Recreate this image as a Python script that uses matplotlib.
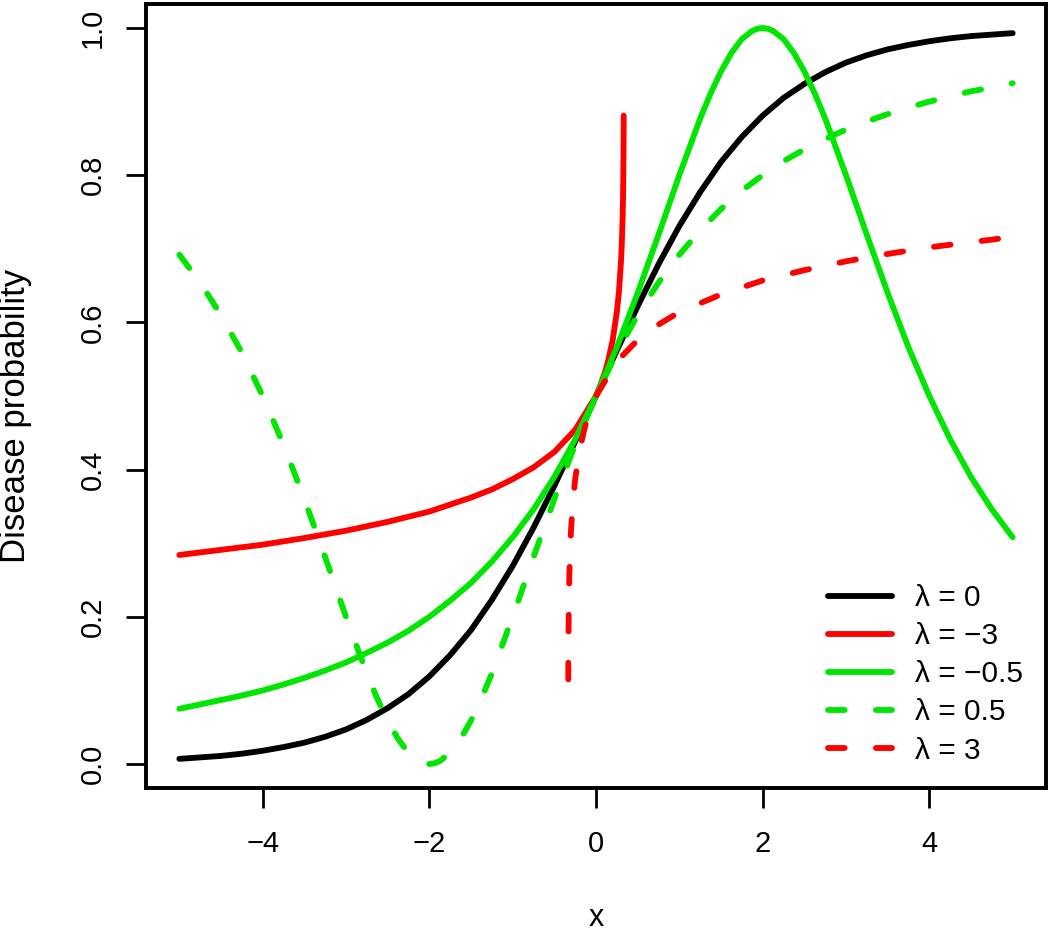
import numpy as np
import matplotlib
matplotlib.use("Agg")
from matplotlib import pyplot as plt

plt.rcParams['font.family'] = ['Liberation Sans', 'DejaVu Sans']
plt.rcParams['lines.scale_dashes'] = False

# values
x_l0 = [-5, -4.75, -4.5, -4.25, -4, -3.75, -3.5, -3.25, -3, -2.75, -2.5, -2.25, -2, -1.75,
        -1.5, -1.25, -1, -0.75, -0.5, -0.25, 0, 0.25, 0.5, 0.75, 1, 1.25, 1.5, 1.75, 2,
        2.25, 2.5, 2.75, 3, 3.25, 3.5, 3.75, 4, 4.25, 4.5, 4.75, 5]
y_l0 = [0.007, 0.009, 0.011, 0.014, 0.018, 0.023, 0.029, 0.037, 0.047, 0.060, 0.076, 0.095,
        0.119, 0.148, 0.182, 0.223, 0.269, 0.321, 0.378, 0.438, 0.500, 0.562, 0.622, 0.679,
        0.731, 0.777, 0.818, 0.852, 0.881, 0.905, 0.924, 0.940, 0.953, 0.963, 0.971, 0.977,
        0.982, 0.986, 0.989, 0.991, 0.993]

x_lm3 = [-5, -4.5, -4, -3.5, -3, -2.5, -2, -1.5, -1.25, -1, -0.75, -0.5, -0.25, 0, 0.05,
         0.1, 0.125, 0.15, 0.2, 0.25, 0.275, 0.3, 0.31, 0.32, 0.325, 0.33, 0.3325]
y_lm3 = [0.284, 0.291, 0.298, 0.307, 0.317, 0.329, 0.343, 0.362, 0.373, 0.387, 0.403, 0.424,
         0.454, 0.500, 0.514, 0.530, 0.539, 0.550, 0.576, 0.614, 0.641, 0.683, 0.708, 0.745,
         0.774, 0.823, 0.881]

x_lm05 = [-5, -4.75, -4.5, -4.25, -4, -3.75, -3.5, -3.25, -3, -2.75, -2.5, -2.25, -2, -1.75,
          -1.5, -1.25, -1, -0.75, -0.5, -0.25, 0, 0.25, 0.5, 0.75, 1, 1.25, 1.375, 1.5, 1.625,
          1.75, 1.875, 1.9375, 2, 2.0625, 2.125, 2.25, 2.375, 2.5, 2.625, 2.75, 3, 3.25, 3.5,
          3.75, 4, 4.25, 4.5, 4.75, 5]
y_lm05 = [0.075, 0.081, 0.087, 0.093, 0.100, 0.108, 0.117, 0.127, 0.138, 0.151, 0.165, 0.181,
          0.200, 0.222, 0.246, 0.275, 0.308, 0.346, 0.390, 0.441, 0.500, 0.566, 0.640, 0.719,
          0.800, 0.877, 0.911, 0.941, 0.966, 0.985, 0.996, 0.999, 1.000, 0.999, 0.996, 0.985,
          0.966, 0.941, 0.911, 0.877, 0.800, 0.719, 0.640, 0.566, 0.500, 0.441, 0.390, 0.346,
          0.308]

x_l05 = [-5, -4.75, -4.5, -4.25, -4, -3.75, -3.5, -3.25, -3, -2.875, -2.75, -2.625, -2.5,
         -2.375, -2.25, -2.125, -2.0625, -2, -1.9375, -1.875, -1.75, -1.625, -1.5, -1.375,
         -1.25, -1, -0.75, -0.5, -0.25, 0, 0.25, 0.5, 0.75, 1, 1.25, 1.5, 1.75, 2, 2.25, 2.5,
         2.75, 3, 3.25, 3.5, 3.75, 4, 4.25, 4.5, 4.75, 5]
y_l05 = [0.692, 0.654, 0.610, 0.559, 0.500, 0.434, 0.360, 0.281, 0.200, 0.161, 0.123, 0.089,
         0.059, 0.034, 0.015, 0.004, 0.001, 0.000, 0.001, 0.004, 0.015, 0.034, 0.059, 0.089,
         0.123, 0.200, 0.281, 0.360, 0.434, 0.500, 0.559, 0.610, 0.654, 0.692, 0.725, 0.754,
         0.779, 0.800, 0.819, 0.835, 0.849, 0.862, 0.873, 0.883, 0.892, 0.900, 0.907, 0.914,
         0.919, 0.925]

x_l3 = [-0.3326, -0.33, -0.325, -0.32, -0.31, -0.3, -0.275, -0.25, -0.2, -0.15, -0.125, -0.1,
        -0.05, 0, 0.25, 0.5, 0.75, 1, 1.5, 2, 2.5, 3, 3.5, 4, 4.5, 5]
y_l3 = [0.115, 0.177, 0.226, 0.255, 0.292, 0.317, 0.359, 0.387, 0.424, 0.450, 0.461, 0.470,
        0.487, 0.500, 0.547, 0.576, 0.597, 0.614, 0.638, 0.657, 0.671, 0.683, 0.693, 0.702,
        0.709, 0.716]

labels = ["λ = 0", "λ = −3", "λ = −0.5", "λ = 0.5", "λ = 3"]
x_ticks = [-4, -2, 0, 2, 4]
y_ticks = [0.0, 0.2, 0.4, 0.6, 0.8, 1.0]

red = "#ff0000"
green = "#00e600"
dash = (12, 22.5)

fig = plt.figure(figsize=(10.5, 9.36), dpi=100)
ax = fig.add_axes([146 / 1050, 1 - 788 / 936, 900 / 1050, 784 / 936])

lw = 4.2
ax.plot(x_l0, y_l0, color="black", lw=lw, solid_capstyle="round", solid_joinstyle="round", label=labels[0])
ax.plot(x_lm3, y_lm3, color=red, lw=lw, solid_capstyle="round", solid_joinstyle="round", label=labels[1])
ax.plot(x_lm05, y_lm05, color=green, lw=lw, solid_capstyle="round", solid_joinstyle="round", label=labels[2])
ax.plot(x_l05, y_l05, color=green, lw=lw, dashes=dash, dash_capstyle="round", dash_joinstyle="round", label=labels[3])
ax.plot(x_l3, y_l3, color=red, lw=lw, dashes=dash, dash_capstyle="round", dash_joinstyle="round", label=labels[4])

ax.set_xlim(-5.4, 5.4)
ax.set_ylim(-0.0326, 1.0326)
ax.set_xticks(x_ticks)
ax.set_xticklabels(["−4", "−2", "0", "2", "4"])
ax.set_yticks(y_ticks)
ax.set_yticklabels(["%.1f" % v for v in y_ticks], rotation=90, va="center")
ax.tick_params(axis="both", length=14.4, width=2, labelsize=21)
ax.tick_params(axis="x", pad=16)
ax.tick_params(axis="y", pad=14)
for s in ax.spines.values():
    s.set_linewidth(2.8)

ax.set_xlabel("x", fontsize=22)
ax.xaxis.set_label_coords(0.5, -0.147)
ax.set_ylabel("Disease probability", fontsize=25)
ax.yaxis.set_label_coords(-0.127, 0.475)

ax.legend(loc="upper left", bbox_to_anchor=(828 / 1050, 1 - 584 / 936),
          bbox_transform=fig.transFigure, frameon=False, fontsize=21.5,
          handlelength=2.14, handletextpad=0.77, labelspacing=0.34,
          borderpad=0, borderaxespad=0)

plt.savefig("out.png", dpi=100)
